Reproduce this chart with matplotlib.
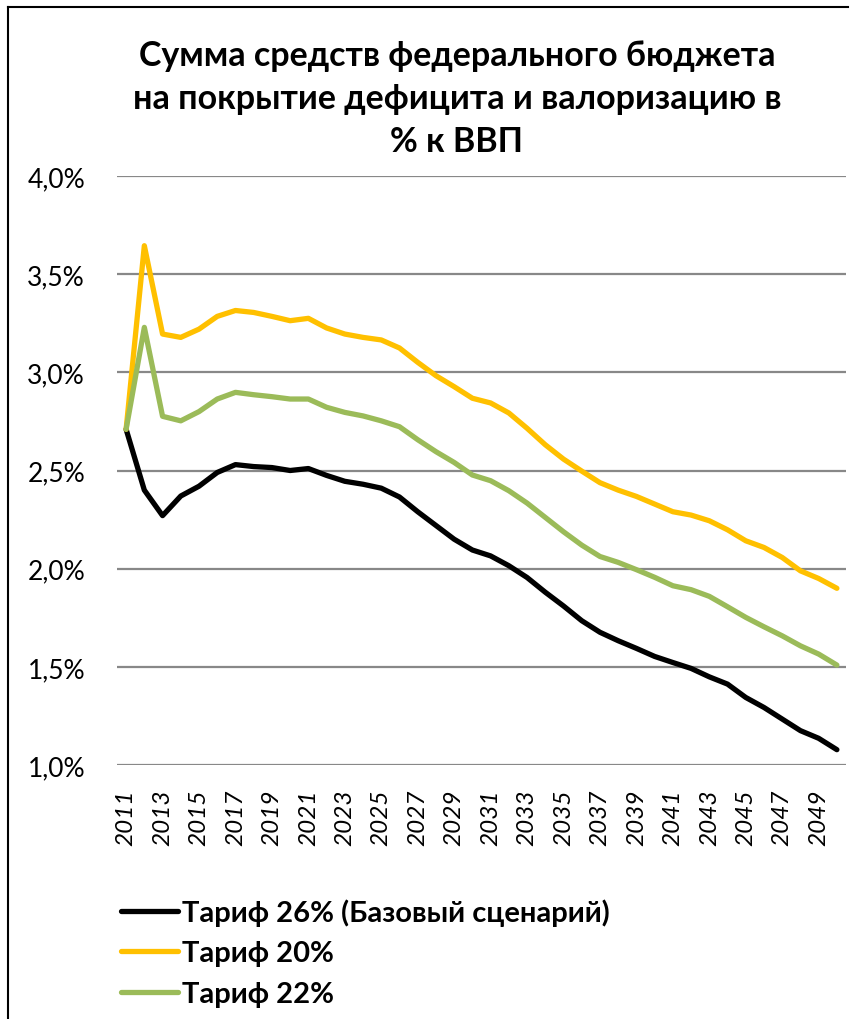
import matplotlib
matplotlib.use('Agg')
import matplotlib.pyplot as plt
from matplotlib.lines import Line2D
from matplotlib.ticker import FuncFormatter

# годы
years = list(range(2011, 2051))

# Тариф 26% (базовый сценарий), % к ВВП
base_26 = [2.71, 2.40, 2.27, 2.37, 2.42, 2.49, 2.53, 2.52, 2.515, 2.50,
           2.51, 2.475, 2.445, 2.43, 2.41, 2.365, 2.29, 2.22, 2.15, 2.095,
           2.065, 2.015, 1.955, 1.88, 1.81, 1.735, 1.676, 1.633, 1.594, 1.553,
           1.522, 1.492, 1.449, 1.412, 1.344, 1.293, 1.234, 1.175, 1.136, 1.078]
# Тариф 20%
tariff_20 = [2.71, 3.645, 3.195, 3.178, 3.22, 3.285, 3.315, 3.305, 3.285, 3.263,
             3.275, 3.226, 3.195, 3.178, 3.165, 3.124, 3.051, 2.983, 2.927, 2.868,
             2.844, 2.793, 2.715, 2.631, 2.558, 2.497, 2.438, 2.40, 2.368, 2.329,
             2.29, 2.273, 2.244, 2.198, 2.142, 2.108, 2.057, 1.989, 1.95, 1.90]
# Тариф 22%
tariff_22 = [2.71, 3.229, 2.776, 2.753, 2.80, 2.864, 2.898, 2.886, 2.876, 2.864,
             2.864, 2.822, 2.796, 2.778, 2.753, 2.723, 2.657, 2.596, 2.541, 2.477,
             2.448, 2.397, 2.334, 2.261, 2.188, 2.12, 2.062, 2.032, 1.995, 1.956,
             1.913, 1.893, 1.859, 1.806, 1.752, 1.704, 1.658, 1.607, 1.565, 1.509]

labels = ['Тариф 26% (Базовый сценарий)', 'Тариф 20%', 'Тариф 22%']
colors = ['#000000', '#FFC000', '#9BBB59']

fonts = ['Lato', 'DejaVu Sans']
plt.rcParams['font.family'] = fonts

fig = plt.figure(figsize=(8.5, 10.2), dpi=100)
ax = fig.add_axes([117 / 850, 1 - 766 / 1020, 729 / 850, 589 / 1020])

for vals, lab, col in zip([base_26, tariff_20, tariff_22], labels, colors):
    ax.plot(years, vals, color=col, lw=3.8, label=lab,
            solid_joinstyle='round', solid_capstyle='round')

ax.set_xlim(2010.5, 2050.5)
ax.set_ylim(1.0, 4.0)
ax.set_yticks([1.0, 1.5, 2.0, 2.5, 3.0, 3.5, 4.0])
ax.yaxis.set_major_formatter(FuncFormatter(lambda v, p: ('%.1f%%' % v).replace('.', ',')))
ax.set_xticks(years[::2])
ax.set_xticklabels([str(y) for y in years[::2]], rotation=90, fontstyle='italic',
                   fontsize=17.5)
ax.tick_params(axis='x', length=0, pad=17)
ax.tick_params(axis='y', length=0, pad=23, labelsize=19)

ax.grid(axis='y', color='#888888', lw=1.6)
ax.set_axisbelow(True)
for s in ax.spines.values():
    s.set_visible(False)

fig.text(457 / 850, 1 - 40 / 1020,
         'Сумма средств федерального бюджета\nна покрытие дефицита и валоризацию в\n% к ВВП',
         ha='center', va='top', fontsize=24.5, fontweight='bold', linespacing=1.42)

leg = fig.legend(loc='upper left', bbox_to_anchor=(95 / 850, 1 - 873 / 1020),
                 frameon=False, handlelength=1.95, handletextpad=0.12,
                 labelspacing=0.5, prop={'weight': 'bold', 'size': 21})

# рамка диаграммы слева и сверху
fig.add_artist(Line2D([8 / 850, 8 / 850], [0, 1 - 8 / 1020], color='black', lw=1.5))
fig.add_artist(Line2D([8 / 850, 848 / 850], [1 - 8 / 1020, 1 - 8 / 1020], color='black', lw=1.5))

fig.savefig('out.png', dpi=100)
